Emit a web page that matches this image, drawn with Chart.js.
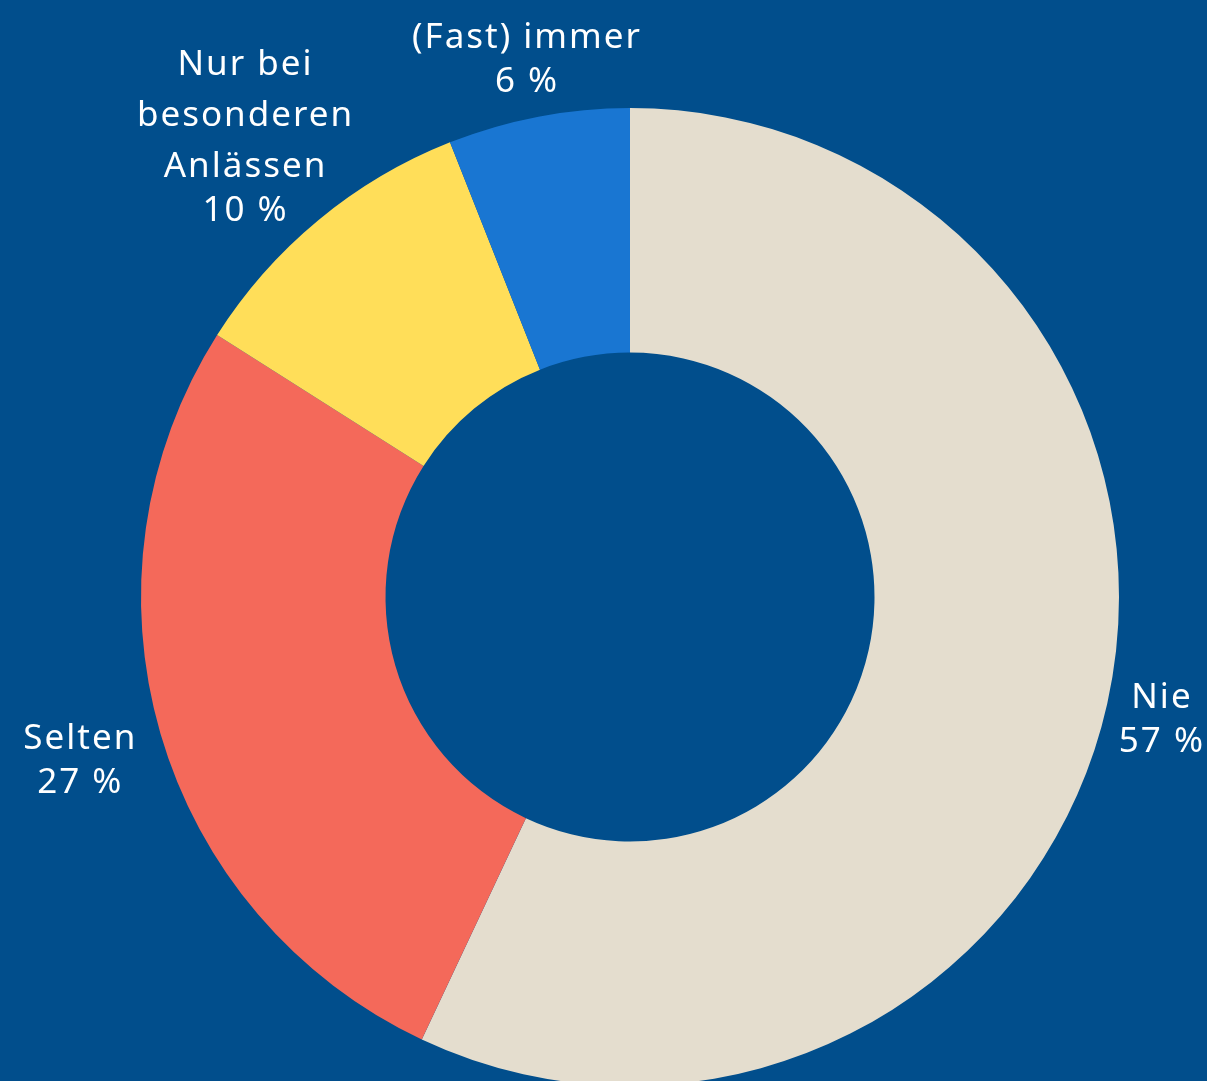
<!DOCTYPE html>
<html>
<head>
<meta charset="utf-8">
<script src="https://cdn.jsdelivr.net/npm/chart.js@4.4.0/dist/chart.umd.min.js"></script>
<style>
  html, body { margin: 0; padding: 0; background: #014E8C; overflow: hidden; }
  #wrap { width: 1207px; height: 1100px; }
</style>
</head>
<body>
<div id="wrap"><canvas id="donut" width="1207" height="1100"></canvas></div>
<script>
// Daten
const labels = [['Nie'], ['Selten'], ['Nur bei', 'besonderen', 'Anlässen'], ['(Fast) immer']];
const values = [57, 27, 10, 6];
const colors = ['#E4DDCE', '#F4695A', '#FFDE59', '#1976D2'];

// Beschriftungen ausserhalb der Segmente
const outsideLabels = {
  id: 'outsideLabels',
  afterDatasetsDraw(chart) {
    const ctx = chart.ctx;
    const arcs = chart.getDatasetMeta(0).data;
    const nudge = [[-2, 0], [-11, 8], [6, -3], [13, -5]]; // kleine Korrekturen
    ctx.save();
    ctx.font = '35px "Noto Sans"';
    ctx.letterSpacing = '2px';
    ctx.fillStyle = '#ffffff';
    ctx.textAlign = 'center';
    ctx.textBaseline = 'alphabetic';
    arcs.forEach((arc, i) => {
      const lines = labels[i].slice();
      const pct = values[i] + ' %';
      const mid = (arc.startAngle + arc.endAngle) / 2;
      const dx = Math.cos(mid), dy = Math.sin(mid);
      const r = arc.outerRadius + 15;
      let w = 0;
      lines.concat([pct]).forEach(t => { w = Math.max(w, ctx.measureText(t).width); });
      const h = (lines.length - 1) * 51 + 44 + 40;
      const cx = arc.x + dx * r + dx * w / 2 + nudge[i][0];
      const cy = arc.y + dy * r + dy * h / 2 + nudge[i][1];
      let y = cy - h / 2 + 34;
      lines.forEach(t => { ctx.fillText(t, cx, y); y += 51; });
      ctx.fillText(pct, cx, y - 51 + 44);
    });
    ctx.restore();
  }
};

new Chart(document.getElementById('donut'), {
  type: 'doughnut',
  data: {
    labels: labels.map(l => l.join(' ')),
    datasets: [{
      data: values,
      backgroundColor: colors,
      borderWidth: 0
    }]
  },
  options: {
    responsive: false,
    animation: false,
    cutout: '50%',
    layout: { padding: { left: 141, right: 88, top: 108, bottom: 14 } },
    plugins: {
      legend: { display: false },
      tooltip: { enabled: false }
    }
  },
  plugins: [outsideLabels]
});
</script>
</body>
</html>
